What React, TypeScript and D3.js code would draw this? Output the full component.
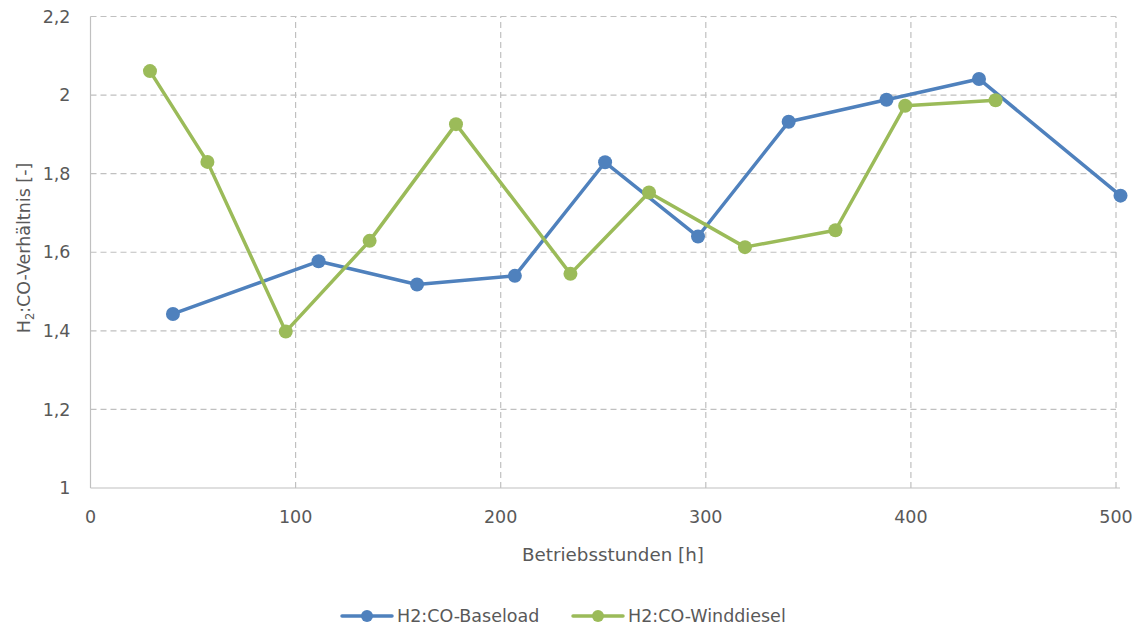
import React from "react";
import * as d3 from "d3";

const baseloadHours = [40.2, 111.2, 159.2, 206.9, 250.9, 296.2, 340.4, 388.1, 433.2, 502.2];
const baseloadRatio = [1.443, 1.577, 1.518, 1.54, 1.829, 1.64, 1.932, 1.988, 2.041, 1.744];
const winddieselHours = [29, 57, 95.2, 136.1, 178.2, 234, 272.3, 319.1, 363.2, 397.2, 441.3];
const winddieselRatio = [2.061, 1.83, 1.398, 1.629, 1.926, 1.545, 1.752, 1.613, 1.656, 1.973, 1.987];
const xTicks = [0, 100, 200, 300, 400, 500];
const yTicks = [1, 1.2, 1.4, 1.6, 1.8, 2, 2.2];
const seriesNames = ["H2:CO-Baseload", "H2:CO-Winddiesel"];
const seriesColors = ["#4f81bd", "#9bbb59"];

const W = 1140, H = 627;
const FONT = "'DejaVu Sans', Verdana, sans-serif";
const TXT = "#595959";
const GRID = "#c0c0c0";
const FS = 17.5;

export default function App() {
  const x = d3.scaleLinear().domain([0, 500]).range([90.5, 1116]);
  const y = d3.scaleLinear().domain([1, 2.2]).range([488, 16.5]);
  const fmt = (v: number) => d3.format("~g")(v).replace(".", ",");
  const series = [
    baseloadHours.map((h, i) => [h, baseloadRatio[i]] as [number, number]),
    winddieselHours.map((h, i) => [h, winddieselRatio[i]] as [number, number]),
  ];
  const line = d3.line<[number, number]>().x(d => x(d[0])).y(d => y(d[1]));
  const legendX = [342, 573];
  return (
    <svg width={W} height={H} style={{ position: "absolute", left: 0, top: 0 }} fontFamily={FONT}>
      <rect width={W} height={H} fill="#fff" />
      {yTicks.slice(1).map(t => (
        <line key={"gy" + t} x1={x(0)} x2={x(500)} y1={y(t)} y2={y(t)} stroke={GRID} strokeWidth={1.2} strokeDasharray="6,4" />
      ))}
      {xTicks.slice(1).map(t => (
        <line key={"gx" + t} x1={x(t)} x2={x(t)} y1={y(1)} y2={y(2.2)} stroke={GRID} strokeWidth={1.2} strokeDasharray="6,4" />
      ))}
      <line x1={x(0)} x2={x(0)} y1={y(1)} y2={y(2.2)} stroke={GRID} strokeWidth={1.2} />
      <line x1={x(0)} x2={x(500) + 4} y1={y(1)} y2={y(1)} stroke={GRID} strokeWidth={1.2} />
      {yTicks.map(t => (
        <text key={"ty" + t} x={70.5} y={y(t)} dy="0.35em" textAnchor="end" fontSize={FS} fill={TXT}>{fmt(t)}</text>
      ))}
      {xTicks.map(t => (
        <text key={"tx" + t} x={x(t)} y={523} textAnchor="middle" fontSize={FS} fill={TXT}>{t}</text>
      ))}
      <text x={613} y={561} textAnchor="middle" fontSize={18.3} fill={TXT}>Betriebsstunden [h]</text>
      <text transform={`translate(30,${248}) rotate(-90)`} textAnchor="middle" fontSize={FS} fill={TXT}>
        H<tspan fontSize={11.5} dy={4}>2</tspan><tspan dy={-4}>:CO-Verhältnis [-]</tspan>
      </text>
      {series.map((s, i) => (
        <g key={"s" + i}>
          <path d={line(s) || ""} fill="none" stroke={seriesColors[i]} strokeWidth={3.5} strokeLinejoin="round" />
          {s.map((d, j) => (
            <circle key={j} cx={x(d[0])} cy={y(d[1])} r={7} fill={seriesColors[i]} />
          ))}
        </g>
      ))}
      {seriesNames.map((n, i) => (
        <g key={"l" + i}>
          <line x1={legendX[i]} x2={legendX[i] + 50} y1={616} y2={616} stroke={seriesColors[i]} strokeWidth={3.5} strokeLinecap="round" />
          <circle cx={legendX[i] + 25} cy={616} r={6} fill={seriesColors[i]} />
          <text x={legendX[i] + 55} y={616} dy="0.35em" fontSize={FS} fill={TXT}>{n}</text>
        </g>
      ))}
    </svg>
  );
}
